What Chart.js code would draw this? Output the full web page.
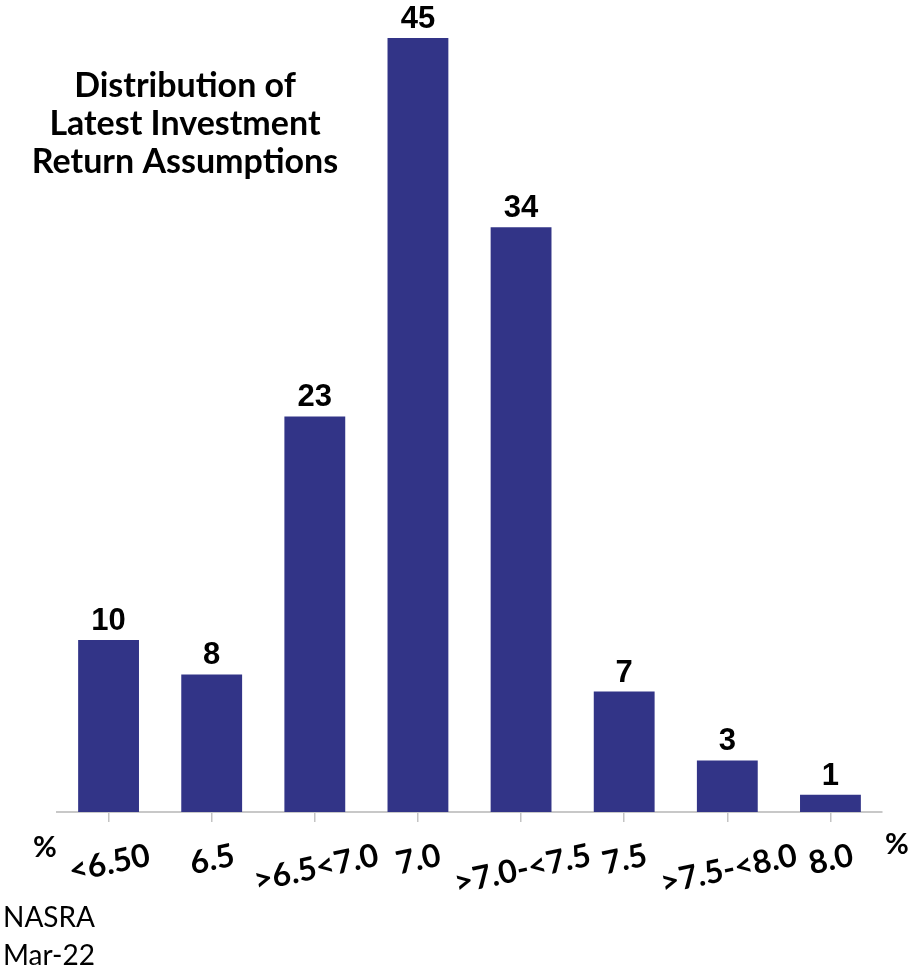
<!DOCTYPE html>
<html>
<head>
<meta charset="utf-8">
<script src="https://cdn.jsdelivr.net/npm/chart.js@4.4.1/dist/chart.umd.min.js"></script>
<style>
    html, body { margin: 0; padding: 0; background: #fff; }
    #caixa { width: 917px; height: 971px; position: relative; }
</style>
</head>
<body>
<div id="caixa"><canvas id="grafico"></canvas></div>
<script>
// categories (x axis) and the count of plans in each one
const categories = ['<6.50', '6.5', '>6.5<7.0', '7.0', '>7.0-<7.5', '7.5', '>7.5-<8.0', '8.0'];
const counts = [10, 8, 23, 45, 34, 7, 3, 1];
const titleLines = ['Distribution of', 'Latest Investment', 'Return Assumptions'];
const sourceLines = ['NASRA', 'Mar-22'];
const unitLabel = '%';

//Draws the title, value labels, tilted category labels and the notes
const textPlugin = {
    id: 'textPlugin',
    afterDraw(chart) {
        const ctx = chart.ctx;
        const xScale = chart.scales.x;
        ctx.save();
        ctx.fillStyle = '#000';

        // title, inside the plot on the left
        ctx.font = 'bold 34px Lato';
        ctx.textAlign = 'center';
        ctx.textBaseline = 'alphabetic';
        titleLines.forEach((line, i) => ctx.fillText(line, 185, 97 + i * 38));

        // values over the bars
        ctx.font = 'bold 31px "Liberation Sans"';
        const meta = chart.getDatasetMeta(0);
        meta.data.forEach((bar, i) => {
            ctx.fillText(String(counts[i]), bar.x, bar.y - 10);
        });

        // tilted category labels
        ctx.font = 'bold 32px Lato';
        const ang = 12 * Math.PI / 180;
        categories.forEach((label, i) => {
            const px = xScale.getPixelForTick(i);
            const w = ctx.measureText(label).width;
            ctx.save();
            ctx.translate(px + w / 2, xScale.bottom + 33);
            ctx.rotate(-ang);
            ctx.textAlign = 'right';
            ctx.textBaseline = 'middle';
            ctx.fillText(label, 0, 0);
            ctx.restore();
        });

        // % at both ends of the axis
        ctx.font = 'bold 29px Lato';
        ctx.textAlign = 'center';
        ctx.textBaseline = 'middle';
        ctx.fillText(unitLabel, 45, 848);
        ctx.fillText(unitLabel, 897, 845);

        // source
        ctx.font = '28px Lato';
        ctx.textAlign = 'left';
        ctx.textBaseline = 'alphabetic';
        sourceLines.forEach((line, i) => ctx.fillText(line, 3, 927 + i * 38));

        ctx.restore();
    }
};

const ctx = document.getElementById('grafico');
new Chart(ctx, {
    type: 'bar',
    data: {
        labels: categories,
        datasets: [{
            data: counts,
            backgroundColor: '#323487',
            borderWidth: 0,
            barPercentage: 0.59,
            categoryPercentage: 1
        }]
    },
    options: {
        responsive: true,
        maintainAspectRatio: false,
        animation: false,
        layout: {
            padding: { left: 57, right: 35, top: 38, bottom: 149 }
        },
        plugins: {
            legend: { display: false },
            tooltip: { enabled: false }
        },
        scales: {
            x: {
                offset: true,
                ticks: { display: false },
                grid: {
                    offset: false,
                    drawOnChartArea: false,
                    drawTicks: true,
                    tickLength: 10,
                    color: '#c4c4c4',
                    lineWidth: 1.5
                },
                border: { display: true, color: '#c8c8c8', width: 2 }
            },
            y: {
                display: false,
                min: 0,
                max: 45
            }
        }
    },
    plugins: [textPlugin]
});
</script>
</body>
</html>
